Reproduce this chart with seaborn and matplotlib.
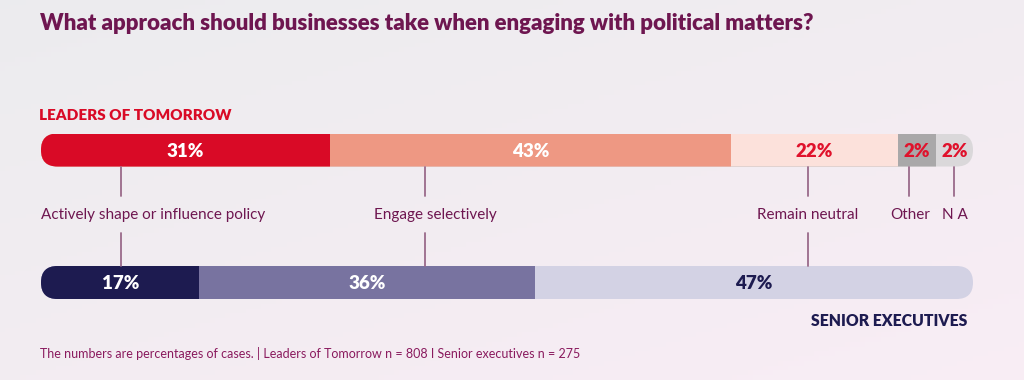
import numpy as np
import pandas as pd
import matplotlib.pyplot as plt
from matplotlib.patches import FancyBboxPatch
import seaborn as sns

# %% data
groups = ["Leaders of Tomorrow", "Senior executives"]
answers = ["Actively shape or influence policy", "Engage selectively", "Remain neutral", "Other", "N A"]
lt_values = [31, 43, 22, 2, 2]
se_values = [17, 36, 47]

# colours per segment (fill, text)
lt_fill = ["#D90A26", "#EE9883", "#FCE1DB", "#A9A8A9", "#DAD8DA"]
lt_text = ["white", "white", "#E0122C", "#E0122C", "#E0122C"]
se_fill = ["#1D1B50", "#7873A0", "#D3D2E4"]
se_text = ["white", "white", "#1D1B50"]

PURPLE = "#6E1650"
LINE = "#9A6A8A"

# tiny slices are drawn at least 4 points wide (taken from the neighbour) so the label fits
def shown_widths(vals, min_w=4):
    w = np.maximum(vals, min_w).astype(float)
    i = max(j for j, v in enumerate(vals) if v >= min_w)
    w[i] -= w.sum() - sum(vals)
    return w

rows = []
for g, vals, fills, texts in [(groups[0], lt_values, lt_fill, lt_text),
                              (groups[1], se_values, se_fill, se_text)]:
    w = shown_widths(vals)
    right = np.cumsum(w)
    for k, v in enumerate(vals):
        rows.append([g, k, answers[k], v, w[k], right[k] - w[k], right[k], fills[k], texts[k]])
df = pd.DataFrame(rows, columns=["group", "seg", "answer", "value", "width", "left", "right", "fill", "text"])

# %% figure
sns.set_theme(style="white")
plt.rcParams["font.family"] = ["Lato", "DejaVu Sans"]

W, H = 1024, 380
fig = plt.figure(figsize=(W / 100, H / 100), dpi=100)

# soft background
bg = fig.add_axes([0, 0, 1, 1])
gx, gy = np.meshgrid(np.linspace(0, 1, 200), np.linspace(0, 1, 80))
c1 = np.array([0.925, 0.925, 0.935])
c2 = np.array([0.975, 0.93, 0.96])
t = np.clip(0.55 * gy + 0.45 * gx, 0, 1)[..., None]
bg.imshow(c1 * (1 - t) + c2 * t, aspect="auto", extent=[0, 1, 0, 1], origin="upper")
bg.axis("off")

# bar axes in pixel layout
x0, x1 = 41, 973          # bar left / right
yc0, yc1 = 150, 282.5     # centres of the two bars
bar_px = 33
h = bar_px / (yc1 - yc0)
top = yc0 - bar_px / 2
bot = yc1 + bar_px / 2
ax = fig.add_axes([x0 / W, 1 - bot / H, (x1 - x0) / W, (bot - top) / H])
ax.patch.set_alpha(0)

for k in sorted(df["seg"].unique(), reverse=True):
    sub = df[df["seg"] == k]
    sns.barplot(data=sub, x="right", y="group", hue="fill", order=groups,
                palette={c: c for c in sub["fill"]}, dodge=False, width=h,
                saturation=1, errorbar=None, legend=False, linewidth=0, ax=ax)

ax.set_xlim(0, 100)
ax.set_ylim(1 + h / 2, -h / 2)
ax.axis("off")

# rounded ends via clipping
px_x = (x1 - x0) / 100
px_y = yc1 - yc0
clips = []
for i in range(len(groups)):
    c = FancyBboxPatch((0, i - h / 2), 100, h,
                       boxstyle=f"round,pad=0,rounding_size={bar_px / 2 / px_x}",
                       mutation_aspect=px_x / px_y, transform=ax.transData,
                       fc="none", ec="none")
    clips.append(c)
for p in ax.patches:
    yc = p.get_y() + p.get_height() / 2
    p.set_clip_path(clips[int(round(yc))])

# percentage labels
for _, r in df.iterrows():
    i = groups.index(r["group"])
    ax.text(r["left"] + r["width"] / 2, i + 0.01, f"{r['value']}%", ha="center", va="center",
            color=r["text"], fontsize=13.5, fontweight="heavy")

# connectors and answer labels (positions in bar units)
line_x = [8.6, 41.2, 82.3, 93.1, 98.0]
text_x = [0, 42.3, 82.3, 93.3, 98.1]
text_ha = ["left", "center", "center", "center", "center"]
def py(px):
    return (px - yc0) / px_y
for k, name in enumerate(answers):
    ax.plot([line_x[k]] * 2, [h / 2, py(196)], color=LINE, lw=1.3, clip_on=False)
    if k < len(se_values):
        ax.plot([line_x[k]] * 2, [py(233), 1 - h / 2], color=LINE, lw=1.3, clip_on=False)
    ax.text(text_x[k], py(219), name, ha=text_ha[k], va="baseline",
            color=PURPLE, fontsize=11, clip_on=False)

# titles and notes
fig.text(40 / W, 1 - 30 / H, "What approach should businesses take when engaging with political matters?",
         color=PURPLE, fontsize=16, fontweight="heavy", va="baseline")
fig.text(39 / W, 1 - 120 / H, "LEADERS OF TOMORROW", color="#D90A26",
         fontsize=11, fontweight="heavy", va="baseline")
fig.text(967 / W, 1 - 326 / H, "SENIOR EXECUTIVES", color="#1D1B50",
         fontsize=11.3, fontweight="heavy", va="baseline", ha="right")
fig.text(40 / W, 1 - 358 / H,
         "The numbers are percentages of cases. | Leaders of Tomorrow n = 808 I Senior executives n = 275",
         color="#8A1A5E", fontsize=9, va="baseline")

plt.savefig("out.png", dpi=100)
